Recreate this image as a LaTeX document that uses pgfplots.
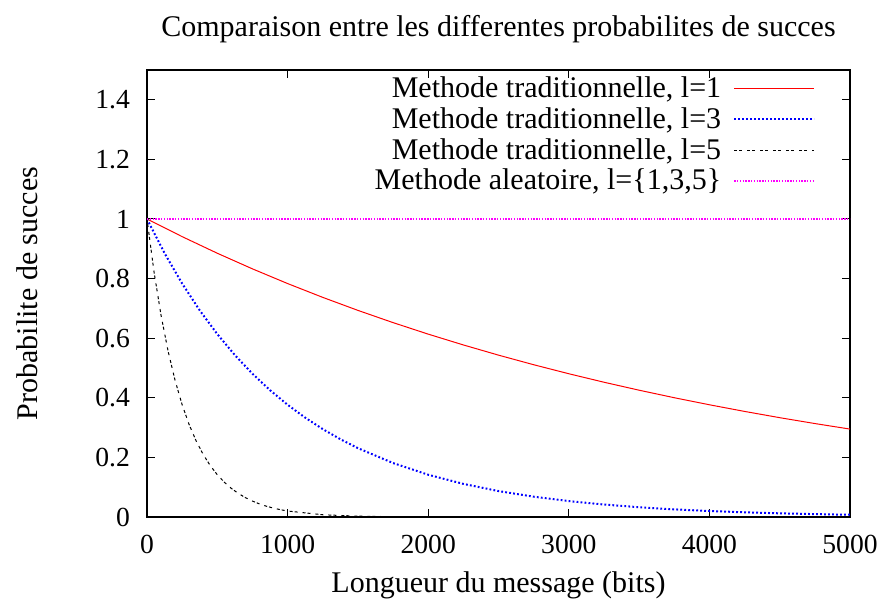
\documentclass[border=0pt]{standalone}
\usepackage{pgfplots}
\pgfplotsset{compat=1.18}
\usepackage{fontspec}
\setmainfont{Liberation Serif}
\definecolor{gpred}{RGB}{255,0,0}
\definecolor{gpblue}{RGB}{0,0,255}
\definecolor{gpmag}{RGB}{255,0,255}
\begin{document}
\begin{tikzpicture}
\begin{axis}[
  scale only axis,
  width=351.5pt, height=223.5pt,
  xmin=0, xmax=5000, ymin=0, ymax=1.5,
  xtick={0,1000,2000,3000,4000,5000},
  ytick={0,0.2,0.4,0.6,0.8,1,1.2,1.4},
  font=\fontsize{15}{17}\selectfont,
  tick label style={font=\fontsize{13.8}{16}\selectfont},
  /pgf/number format/assume math mode=true,
  /pgf/number format/1000 sep={},
  tick align=inside,
  major tick length=4pt,
  axis line style={line width=0.6pt},
  tick style={line width=0.5pt, black},
  xticklabel style={yshift=-5.5pt},
  yticklabel style={xshift=-5pt},
  title={Comparaison entre les differentes probabilites de succes},
  title style={at={(axis description cs:0.5,1)}, yshift=14.5pt, anchor=center},
  xlabel={Longueur du message (bits)},
  ylabel={Probabilite de succes},
  every axis x label/.style={at={(axis description cs:0.5,0)}, yshift=-34pt, anchor=center},
  every axis y label/.style={at={(axis description cs:0,0.5)}, xshift=-60pt, rotate=90, anchor=center},
  legend plot pos=right,
  legend image code/.code={\path (0pt,0pt); \draw[#1] (4pt,0pt) -- (44pt,0pt);},
  legend style={draw=none, fill=none, at={(axis description cs:0.951,0.995)}, anchor=north east,
    cells={anchor=east}, row sep=-0.5pt, inner sep=0pt, font=\fontsize{15}{17}\selectfont},
]
\addplot[gpred, line width=0.5pt] coordinates {
(0,1) (250,0.94079) (500,0.88508) (750,0.83268) (1000,0.78337) (1250,0.73699)
(1500,0.69335) (1750,0.65230) (2000,0.61367) (2250,0.57735) (2500,0.54316)
(2750,0.51100) (3000,0.48075) (3250,0.45228) (3500,0.42550) (3750,0.40030)
(4000,0.37661) (4250,0.35431) (4500,0.33333) (4750,0.31360) (5000,0.29504)
};
\addlegendentry{Methode traditionnelle, l=1}
\addplot[gpblue, line width=1pt, dash pattern=on 0.9pt off 1.1pt] coordinates {
(0,1) (125,0.88508) (250,0.78337) (375,0.69335) (500,0.61367) (625,0.54316)
(750,0.48074) (875,0.42550) (1000,0.37661) (1125,0.33333) (1250,0.29504)
(1375,0.26113) (1500,0.23112) (1750,0.18105) (2000,0.14183) (2250,0.11111)
(2500,0.08704) (2750,0.06818) (3000,0.05341) (3250,0.04184) (3500,0.03278)
(3750,0.02568) (4000,0.02011) (4250,0.01576) (4500,0.01234) (4750,0.00967)
(5000,0.00757)
};
\addlegendentry{Methode traditionnelle, l=3}
\addplot[black, line width=0.5pt, dash pattern=on 1.5pt off 1pt on 1.5pt off 2.5pt] coordinates {
(0,1) (50,0.82258) (100,0.67664) (150,0.55659) (200,0.45784) (250,0.37661)
(300,0.30979) (350,0.25483) (400,0.20962) (450,0.17243) (500,0.14183)
(550,0.11667) (600,0.09597) (650,0.07894) (700,0.06493) (750,0.05341)
(800,0.04394) (850,0.03614) (900,0.02973) (950,0.02446) (1000,0.02011)
(1250,0.00757) (1500,0.00285) (1750,0.00107) (2000,0.00040) (2500,0.00006)
(3000,0.00001) (4000,0) (5000,0)
};
\addlegendentry{Methode traditionnelle, l=5}
\addplot[gpmag, line width=1pt, dash pattern=on 0.7pt off 0.7pt] coordinates {
(0,1) (1000,1) (2000,1) (3000,1) (4000,1) (5000,1)
};
\addlegendentry{Methode aleatoire, l=\{1,3,5\}}
\coordinate (bbA) at (rel axis cs:-0.2091,-0.2013);
\coordinate (bbB) at (rel axis cs:1.0512,1.1566);
\end{axis}
\path (bbA) (bbB);
\end{tikzpicture}
\end{document}
